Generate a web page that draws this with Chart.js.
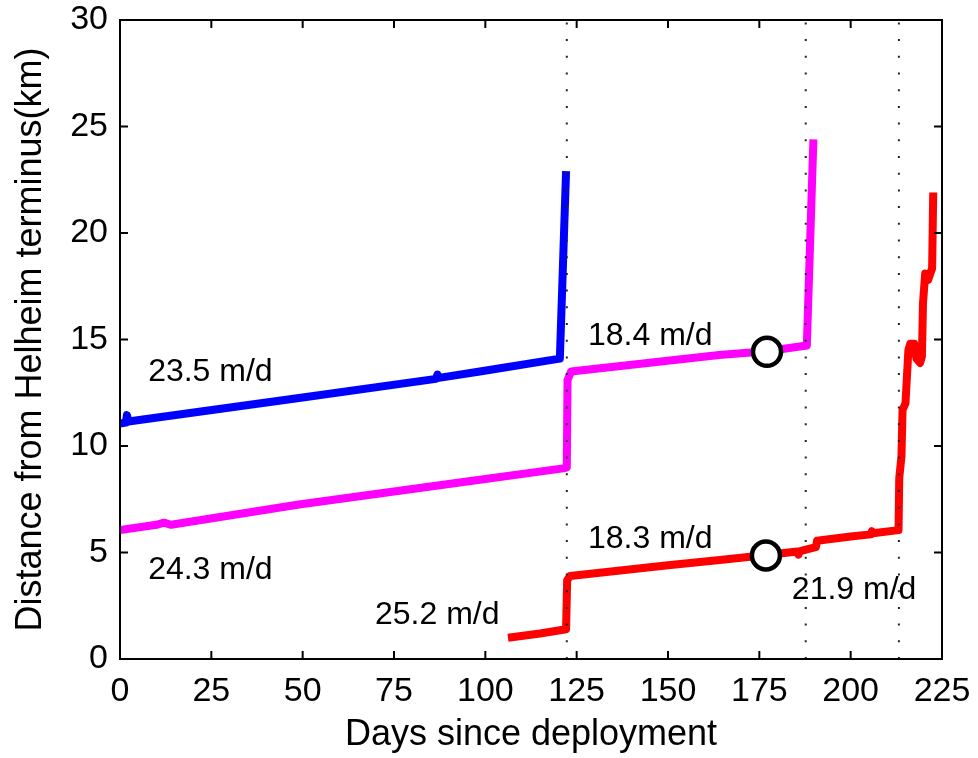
<!DOCTYPE html>
<html>
<head>
<meta charset="utf-8">
<script src="https://cdn.jsdelivr.net/npm/chart.js@4/dist/chart.umd.min.js"></script>
<style>
  html, body { margin: 0; padding: 0; background: #fff; }
  #wrap { width: 978px; height: 758px; }
</style>
</head>
<body>
<div id="wrap"><canvas id="c" width="978" height="758"></canvas></div>
<script>
// ---- Data ----
const blueDays = [0, 1.6, 1.9, 2.3, 49, 86.5, 86.9, 87.3, 98.5, 120.4, 122.1];
const blueKm   = [11.05, 11.1, 11.45, 11.15, 12.25, 13.15, 13.35, 13.2, 13.5, 14.1, 22.9];

const magentaDays = [0, 10, 12, 14, 49, 98, 121.3, 122.3, 122.5, 123.5, 164, 177, 188, 189.8];
const magentaKm   = [6.05, 6.3, 6.4, 6.3, 7.25, 8.4, 8.95, 9.0, 13.1, 13.5, 14.27, 14.45, 14.72, 24.4];

const redDays = [106.2, 115, 122.1, 122.4, 123.2, 150, 164.2, 177, 185.4, 185.7, 186, 188, 190.5, 190.8, 200, 205.5, 205.8, 206.1, 213.1, 213.3, 213.9, 214.2, 215, 215.8, 216.3, 217.4, 218, 219, 219.5, 219.8, 220.4, 221.2, 222.3, 222.6];
const redKm   = [1.0, 1.2, 1.4, 3.7, 3.9, 4.4, 4.65, 4.88, 5.05, 4.9, 5.05, 5.15, 5.25, 5.55, 5.75, 5.85, 6.0, 5.9, 6.05, 8.5, 9.5, 11.7, 12.0, 14.5, 14.8, 14.8, 14.1, 13.9, 14.2, 16.7, 18.1, 17.8, 18.35, 21.9];

const circleDays = [177.1, 176.8];
const circleKm   = [14.42, 4.86];

const markerDays = [122.3, 187.7, 213.2];

const xTicks = [0, 25, 50, 75, 100, 125, 150, 175, 200, 225];
const yTicks = [0, 5, 10, 15, 20, 25, 30];

const rateLabels = ["23.5 m/d", "24.3 m/d", "25.2 m/d", "18.4 m/d", "18.3 m/d", "21.9 m/d"];
const rateDays   = [7.7, 7.7, 69.8, 128.1, 128.1, 183.9];
const rateKm     = [13.45, 4.18, 2.07, 15.17, 5.63, 3.24];

// ---- Build datasets ----
const pts = (xs, ys) => xs.map((x, i) => ({ x: x, y: ys[i] }));
const FONT = '"Liberation Sans", Arial, Helvetica, sans-serif';

const lineDs = (xs, ys, color) => ({
  data: pts(xs, ys), showLine: true, borderColor: color, backgroundColor: color,
  borderWidth: 8, pointRadius: 0, borderJoinStyle: 'round', borderCapStyle: 'butt',
  tension: 0, order: 3
});

const datasets = [
  lineDs(blueDays, blueKm, '#0000ff'),
  lineDs(magentaDays, magentaKm, '#ff00ff'),
  lineDs(redDays, redKm, '#ff0000')
];
markerDays.forEach(d => {
  datasets.push({
    data: [{ x: d, y: yTicks[0] }, { x: d, y: yTicks[yTicks.length - 1] }],
    showLine: true, borderColor: '#222', borderWidth: 2, borderDash: [2, 14.7],
    pointRadius: 0, order: 2
  });
});
datasets.push({
  data: pts(circleDays, circleKm), showLine: false, pointRadius: 14, pointBorderWidth: 4.5,
  pointBackgroundColor: '#ffffff', pointBorderColor: '#000000', order: 1
});

// ---- Plugins ----
const framePlugin = {
  id: 'frame',
  afterDraw(chart) {
    const { ctx, chartArea: { left, right, top, bottom }, scales: { x, y } } = chart;
    ctx.save();
    ctx.strokeStyle = '#000';
    ctx.lineWidth = 2;
    ctx.strokeRect(left, top, right - left, bottom - top);
    const L = 8;
    ctx.beginPath();
    xTicks.forEach(v => {
      const p = x.getPixelForValue(v);
      ctx.moveTo(p, bottom); ctx.lineTo(p, bottom - L);
      ctx.moveTo(p, top); ctx.lineTo(p, top + L);
    });
    yTicks.forEach(v => {
      const p = y.getPixelForValue(v);
      ctx.moveTo(left, p); ctx.lineTo(left + L, p);
      ctx.moveTo(right, p); ctx.lineTo(right - L, p);
    });
    ctx.stroke();
    ctx.restore();
  }
};

const labelPlugin = {
  id: 'rateLabels',
  afterDatasetsDraw(chart) {
    const { ctx, scales: { x, y } } = chart;
    ctx.save();
    ctx.fillStyle = '#000';
    ctx.font = '32px ' + FONT;
    ctx.textAlign = 'left';
    ctx.textBaseline = 'middle';
    rateLabels.forEach((t, i) => {
      ctx.fillText(t, x.getPixelForValue(rateDays[i]), y.getPixelForValue(rateKm[i]));
    });
    ctx.restore();
  }
};

new Chart(document.getElementById('c'), {
  type: 'scatter',
  data: { datasets },
  options: {
    responsive: false,
    animation: false,
    devicePixelRatio: 1,
    layout: { padding: { top: 20, right: 36, left: 0, bottom: 0 } },
    plugins: { legend: { display: false }, tooltip: { enabled: false } },
    scales: {
      x: {
        type: 'linear', min: 0, max: 225,
        afterFit: s => { s.height = 99; s.paddingLeft = 0; s.paddingRight = 0; },
        afterBuildTicks: s => { s.ticks = xTicks.map(v => ({ value: v })); },
        grid: { display: false, drawTicks: false },
        border: { display: false },
        ticks: { color: '#000', font: { family: FONT, size: 34 }, padding: 12, maxRotation: 0, autoSkip: false },
        title: { display: true, text: 'Days since deployment', color: '#000', font: { family: FONT, size: 36, lineHeight: 1.2 }, padding: { top: 0, bottom: 1 } }
      },
      y: {
        type: 'linear', min: 0, max: 30,
        afterFit: s => { s.width = 120; s.paddingTop = 0; s.paddingBottom = 0; },
        afterBuildTicks: s => { s.ticks = yTicks.map(v => ({ value: v })); },
        grid: { display: false, drawTicks: false },
        border: { display: false },
        ticks: { color: '#000', font: { family: FONT, size: 34 }, padding: 12, autoSkip: false },
        title: { display: true, text: 'Distance from Helheim terminus(km)', color: '#000', font: { family: FONT, size: 36, lineHeight: 1.2 }, padding: { top: 9, bottom: 0 } }
      }
    }
  },
  plugins: [framePlugin, labelPlugin]
});
</script>
</body>
</html>
